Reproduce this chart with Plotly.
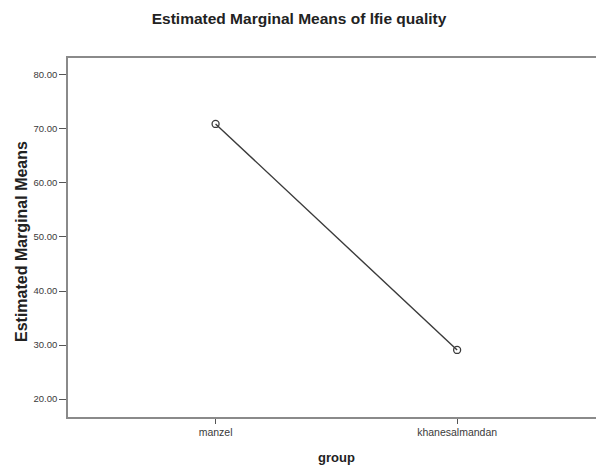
import plotly.graph_objects as go

groups = ["manzel", "khanesalmandan"]
means = [70.9, 29.1]
y_ticks = [20, 30, 40, 50, 60, 70, 80]
y_tick_labels = ["20.00", "30.00", "40.00", "50.00", "60.00", "70.00", "80.00"]

FONT = "Liberation Sans, Arial, sans-serif"

fig = go.Figure()
fig.add_trace(go.Scatter(
    x=groups, y=means, mode="lines+markers",
    line=dict(color="#3a3a3a", width=1.4),
    marker=dict(symbol="circle-open", size=7, color="#3a3a3a", line=dict(width=1.3)),
    showlegend=False,
))

fig.update_layout(
    width=596, height=468,
    margin=dict(l=68, r=0, t=58, b=51),
    paper_bgcolor="white", plot_bgcolor="white",
    title=dict(text="<b>Estimated Marginal Means of lfie quality</b>",
               x=299 / 596, xanchor="center", y=1 - 19/468, yanchor="middle",
               font=dict(family=FONT, size=15.5, color="#222222")),
    xaxis=dict(
        type="category", range=[-0.611, 1.575],
        showline=True, linecolor="#8a8a8a", linewidth=1.6, mirror=True,
        ticks="outside", ticklen=5, tickcolor="#555555", tickwidth=1,
        tickfont=dict(family=FONT, size=10.5, color="#3a3a3a"),
        showgrid=False, zeroline=False,
    ),
    yaxis=dict(
        range=[16.7, 83.1], tickvals=y_ticks, ticktext=y_tick_labels,
        showline=True, linecolor="#8a8a8a", linewidth=1.6, mirror=False,
        ticks="outside", ticklen=7, tickcolor="#555555", tickwidth=1,
        tickfont=dict(family=FONT, size=9.5, color="#3a3a3a"),
        showgrid=False, zeroline=False,
    ),
    annotations=[
        dict(text="<b>group</b>", xref="paper", yref="paper",
             x=(336.5 - 68) / (596 - 68), y=-(457 - 417) / (468 - 58 - 51),
             xanchor="center", yanchor="middle", showarrow=False,
             font=dict(family=FONT, size=13, color="#222222")),
        dict(text="<b>Estimated Marginal Means</b>", xref="paper", yref="paper",
             x=-(68 - 21) / (596 - 68), y=(468 - 51 - 242) / (468 - 58 - 51),
             xanchor="center", yanchor="middle", textangle=-90, showarrow=False,
             font=dict(family=FONT, size=16, color="#222222")),
    ],
)

fig.write_html("out.html", config={"displayModeBar": False},
               post_script="document.body.style.margin='0';document.body.style.overflow='hidden';")
